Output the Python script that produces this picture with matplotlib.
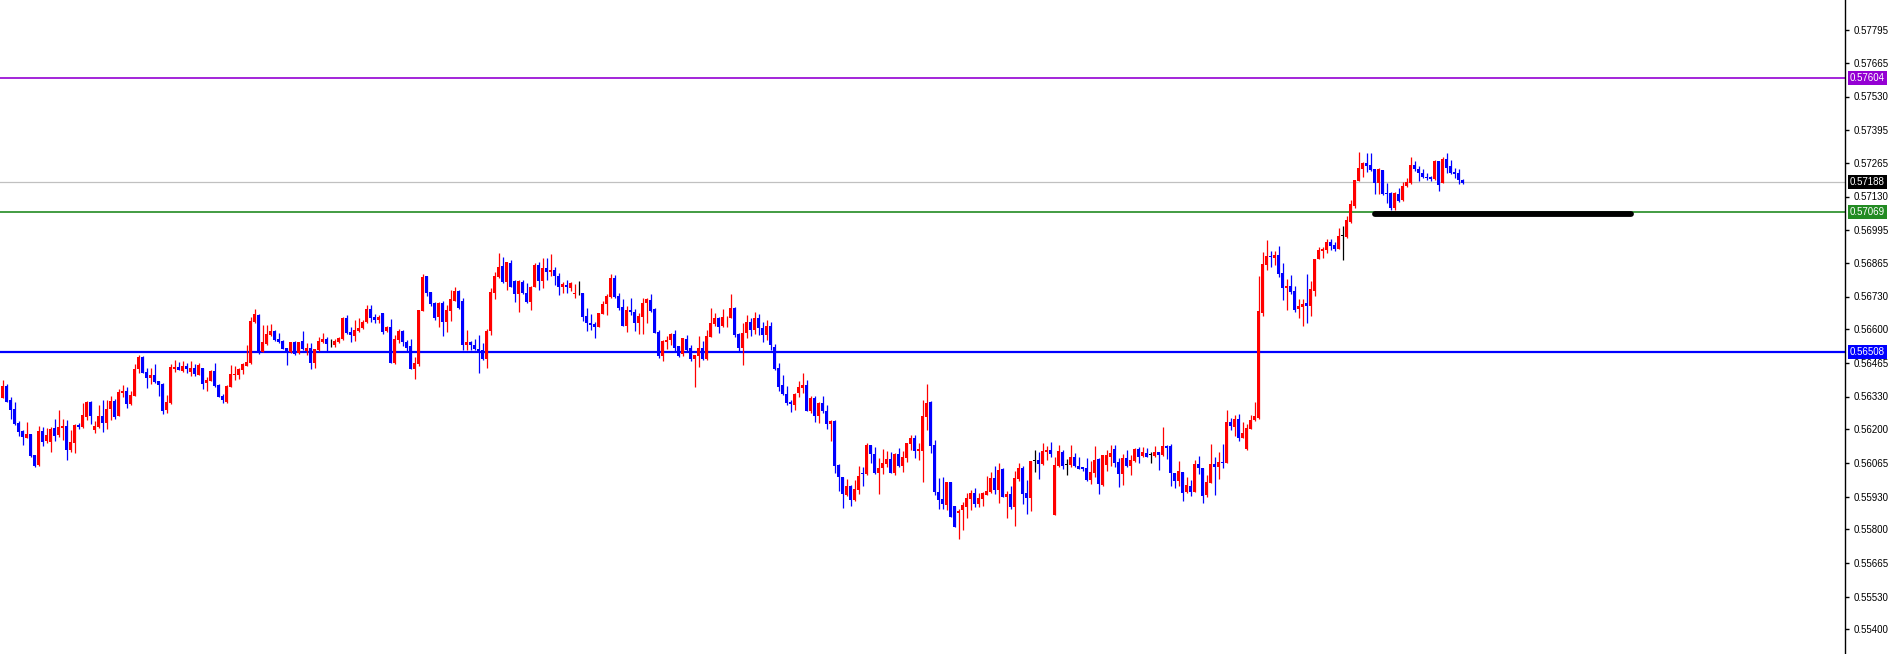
import matplotlib
matplotlib.use("Agg")
import matplotlib.pyplot as plt
import matplotlib.transforms as mtransforms
import numpy as np

plt.rcParams['font.family'] = ['Liberation Sans', 'DejaVu Sans']

# candle prices in points (1 point = 0.00001)
opens = [
    56325, 56372, 56316, 56280, 56223, 56192, 56165, 56180, 56096, 56056,
    56193, 56152, 56149, 56203, 56176, 56205, 56212, 56116, 56145, 56216,
    56208, 56249, 56308, 56196, 56207, 56252, 56223, 56280, 56312, 56252,
    56345, 56353, 56299, 56333, 56439, 56488, 56429, 56405, 56417, 56391,
    56381, 56276, 56303, 56441, 56448, 56433, 56453, 56428, 56444, 56416,
    56443, 56385, 56393, 56432, 56377, 56332, 56309, 56369, 56415, 56416,
    56436, 56452, 56463, 56627, 56656, 56509, 56540, 56576, 56592, 56560,
    56553, 56524, 56509, 56549, 56503, 56553, 56513, 56523, 56463, 56516,
    56547, 56560, 56543, 56536, 56549, 56559, 56644, 56589, 56573, 56592,
    56603, 56627, 56680, 56649, 56636, 56663, 56593, 56607, 56463, 56556,
    56593, 56548, 56532, 56441, 56460, 56673, 56812, 56747, 56703, 56647,
    56705, 56628, 56672, 56713, 56753, 56712, 56537, 56548, 56536, 56520,
    56516, 56480, 56593, 56745, 56809, 56852, 56789, 56865, 56793, 56740,
    56787, 56745, 56708, 56769, 56856, 56793, 56845, 56829, 56836, 56813,
    56769, 56777, 56765, 56741, 56743, 56745, 56652, 56625, 56620, 56609,
    56661, 56699, 56727, 56805, 56733, 56687, 56613, 56676, 56669, 56623,
    56649, 56703, 56716, 56680, 56589, 56492, 56549, 56556, 56580, 56532,
    56499, 56560, 56523, 56480, 56493, 56523, 56480, 56569, 56620, 56645,
    56612, 56647, 56645, 56685, 56580, 56523, 56584, 56628, 56596, 56644,
    56604, 56576, 56612, 56530, 56443, 56376, 56340, 56309, 56296, 56343,
    56365, 56376, 56272, 56323, 56252, 56305, 56272, 56219, 56232, 56056,
    56009, 55936, 55972, 55916, 55956, 56023, 56019, 56135, 56100, 56025,
    56045, 56059, 56079, 56025, 56100, 56052, 56085, 56140, 56163, 56113,
    56113, 56249, 56308, 56136, 55949, 55920, 55896, 55989, 55892, 55865,
    55876, 55889, 55920, 55945, 55900, 55920, 55936, 55949, 56005, 55956,
    56039, 55929, 55940, 55889, 56000, 56043, 55945, 55923, 56073, 56076,
    56060, 56109, 56116, 55856, 56052, 56108, 56056, 56056, 56089, 56052,
    56049, 56045, 55996, 56025, 56079, 55976, 56056, 56089, 56120, 56067,
    56020, 56083, 56052, 56072, 56120, 56092, 56103, 56096, 56092, 56107,
    56096, 56132, 56132, 56025, 55993, 56028, 55949, 55972, 55949, 56060,
    56045, 55936, 55985, 56060, 56049, 56069, 56065, 56229, 56209, 56240,
    56165, 56120, 56200, 56236, 56243, 56665, 56856, 56893, 56885, 56896,
    56823, 56765, 56772, 56752, 56679, 56689, 56703, 56693, 56753, 56880,
    56913, 56916, 56947, 56935, 56921, 56972, 56969, 57029, 57093, 57193,
    57241, 57265, 57256, 57240, 57183, 57236, 57145, 57145, 57083, 57140,
    57116, 57173, 57183, 57256, 57239, 57225, 57209, 57209, 57199, 57273,
    57185, 57280, 57252, 57229, 57225, 57196]

highs = [
    56396, 56380, 56328, 56308, 56233, 56196, 56228, 56180, 56096, 56212,
    56207, 56203, 56207, 56239, 56276, 56240, 56236, 56196, 56220, 56223,
    56305, 56312, 56313, 56233, 56296, 56316, 56316, 56332, 56319, 56359,
    56376, 56367, 56352, 56460, 56496, 56492, 56443, 56443, 56460, 56393,
    56385, 56336, 56459, 56476, 56467, 56473, 56463, 56472, 56460, 56465,
    56443, 56407, 56436, 56465, 56380, 56340, 56376, 56456, 56452, 56443,
    56463, 56536, 56649, 56680, 56659, 56616, 56617, 56619, 56595, 56583,
    56556, 56524, 56549, 56552, 56549, 56592, 56545, 56543, 56520, 56569,
    56585, 56569, 56560, 56560, 56569, 56647, 56656, 56607, 56636, 56643,
    56636, 56696, 56696, 56660, 56656, 56665, 56612, 56639, 56576, 56599,
    56596, 56556, 56559, 56489, 56676, 56819, 56812, 56749, 56709, 56709,
    56712, 56696, 56756, 56769, 56756, 56723, 56596, 56553, 56559, 56576,
    56543, 56599, 56763, 56829, 56903, 56889, 56869, 56876, 56796, 56796,
    56796, 56783, 56772, 56863, 56869, 56883, 56883, 56900, 56847, 56823,
    56789, 56796, 56789, 56780, 56792, 56745, 56683, 56660, 56627, 56665,
    56712, 56739, 56820, 56815, 56745, 56720, 56692, 56723, 56680, 56663,
    56723, 56723, 56740, 56683, 56596, 56556, 56572, 56583, 56596, 56532,
    56563, 56576, 56536, 56496, 56572, 56552, 56596, 56683, 56663, 56649,
    56679, 56652, 56740, 56689, 56583, 56623, 56656, 56644, 56668, 56660,
    56628, 56636, 56628, 56540, 56463, 56416, 56372, 56316, 56345, 56392,
    56423, 56396, 56333, 56333, 56309, 56332, 56296, 56236, 56236, 56060,
    56009, 55999, 55976, 55996, 56052, 56047, 56143, 56136, 56127, 56083,
    56120, 56113, 56109, 56105, 56123, 56112, 56145, 56176, 56176, 56143,
    56316, 56380, 56313, 56156, 56003, 56009, 55989, 55989, 55892, 55879,
    55909, 55943, 55956, 55965, 55943, 55949, 56012, 56029, 56052, 56063,
    56043, 55952, 55972, 56033, 56063, 56052, 55996, 56073, 56116, 56109,
    56143, 56132, 56149, 56089, 56136, 56116, 56079, 56136, 56105, 56087,
    56049, 56083, 56072, 56132, 56083, 56096, 56116, 56136, 56136, 56083,
    56099, 56116, 56096, 56123, 56129, 56127, 56123, 56109, 56132, 56107,
    56209, 56136, 56140, 56025, 56073, 56028, 56009, 55996, 56076, 56092,
    56045, 56016, 56140, 56089, 56109, 56140, 56276, 56245, 56256, 56259,
    56229, 56220, 56256, 56309, 56813, 56909, 56956, 56913, 56913, 56932,
    56865, 56799, 56816, 56772, 56720, 56719, 56820, 56793, 56880, 56927,
    56927, 56959, 56959, 56949, 57003, 57012, 57052, 57116, 57196, 57307,
    57269, 57303, 57303, 57240, 57243, 57236, 57183, 57149, 57149, 57165,
    57189, 57203, 57287, 57273, 57253, 57239, 57223, 57212, 57276, 57273,
    57287, 57303, 57276, 57243, 57239, 57199]

lows = [
    56323, 56308, 56240, 56216, 56173, 56136, 56163, 56089, 56048, 56053,
    56133, 56143, 56109, 56152, 56169, 56156, 56076, 56109, 56105, 56199,
    56205, 56236, 56220, 56185, 56203, 56189, 56201, 56236, 56240, 56252,
    56329, 56285, 56296, 56333, 56424, 56423, 56365, 56380, 56383, 56333,
    56260, 56263, 56300, 56429, 56435, 56429, 56425, 56412, 56413, 56415,
    56361, 56353, 56393, 56369, 56327, 56303, 56305, 56367, 56396, 56399,
    56420, 56452, 56460, 56623, 56499, 56507, 56535, 56573, 56552, 56545,
    56519, 56456, 56505, 56497, 56500, 56516, 56496, 56441, 56444, 56513,
    56543, 56509, 56527, 56527, 56545, 56556, 56579, 56549, 56552, 56589,
    56599, 56624, 56628, 56623, 56623, 56579, 56589, 56463, 56460, 56545,
    56532, 56513, 56439, 56399, 56452, 56671, 56732, 56693, 56636, 56609,
    56573, 56589, 56633, 56711, 56680, 56516, 56516, 56516, 56516, 56423,
    56476, 56445, 56576, 56719, 56803, 56785, 56756, 56767, 56709, 56669,
    56740, 56705, 56676, 56767, 56756, 56763, 56796, 56812, 56776, 56736,
    56743, 56745, 56753, 56723, 56736, 56633, 56593, 56596, 56565, 56609,
    56661, 56657, 56723, 56725, 56676, 56612, 56589, 56656, 56593, 56579,
    56579, 56625, 56669, 56583, 56485, 56472, 56520, 56536, 56509, 56489,
    56493, 56512, 56473, 56369, 56449, 56476, 56476, 56567, 56613, 56585,
    56609, 56609, 56643, 56569, 56509, 56456, 56564, 56572, 56580, 56576,
    56548, 56556, 56516, 56436, 56353, 56336, 56296, 56269, 56276, 56327,
    56345, 56272, 56263, 56229, 56223, 56265, 56200, 56153, 56025, 55953,
    55885, 55933, 55893, 55913, 55940, 55972, 56016, 56063, 56020, 55940,
    56020, 56049, 56023, 56016, 56049, 56029, 56069, 56116, 56083, 56076,
    55989, 56196, 56105, 55936, 55880, 55880, 55876, 55847, 55809, 55760,
    55796, 55845, 55876, 55889, 55889, 55893, 55936, 55945, 55939, 55905,
    55927, 55845, 55880, 55812, 55993, 55900, 55860, 55872, 56029, 56000,
    56056, 56076, 56089, 55856, 56049, 56039, 56016, 56049, 56049, 56039,
    56033, 55993, 55980, 56009, 55940, 55973, 56033, 56052, 56047, 55967,
    55976, 56047, 56016, 56067, 56065, 56087, 56087, 56063, 56089, 56036,
    56092, 56080, 55972, 55965, 55973, 55913, 55945, 55933, 55949, 56020,
    55903, 55927, 55983, 55936, 56000, 56045, 56065, 56196, 56173, 56153,
    56163, 56116, 56199, 56233, 56239, 56652, 56836, 56849, 56856, 56807,
    56716, 56676, 56739, 56669, 56645, 56613, 56625, 56652, 56733, 56880,
    56883, 56905, 56916, 56912, 56920, 56876, 56963, 57025, 57083, 57193,
    57207, 57229, 57232, 57140, 57140, 57136, 57105, 57076, 57076, 57107,
    57112, 57169, 57180, 57232, 57193, 57205, 57196, 57193, 57196, 57153,
    57183, 57223, 57220, 57203, 57179, 57180]

closes = [
    56372, 56309, 56276, 56220, 56188, 56169, 56180, 56092, 56052, 56193,
    56149, 56176, 56200, 56173, 56208, 56212, 56116, 56148, 56216, 56208,
    56256, 56308, 56253, 56212, 56252, 56223, 56280, 56312, 56249, 56348,
    56353, 56301, 56337, 56440, 56488, 56424, 56405, 56417, 56387, 56377,
    56273, 56308, 56448, 56448, 56435, 56453, 56440, 56444, 56419, 56455,
    56380, 56396, 56432, 56373, 56329, 56316, 56372, 56420, 56420, 56439,
    56460, 56469, 56632, 56660, 56509, 56547, 56580, 56592, 56556, 56547,
    56521, 56508, 56549, 56500, 56549, 56520, 56525, 56463, 56520, 56552,
    56560, 56539, 56543, 56553, 56565, 56644, 56585, 56576, 56596, 56605,
    56629, 56680, 56645, 56636, 56647, 56589, 56607, 56465, 56560, 56592,
    56549, 56525, 56441, 56463, 56676, 56809, 56743, 56700, 56643, 56705,
    56628, 56676, 56720, 56753, 56683, 56537, 56548, 56537, 56520, 56505,
    56480, 56593, 56749, 56812, 56847, 56789, 56867, 56769, 56740, 56793,
    56743, 56708, 56767, 56856, 56793, 56845, 56829, 56836, 56812, 56769,
    56780, 56767, 56783, 56745, 56743, 56649, 56623, 56616, 56609, 56663,
    56700, 56733, 56805, 56729, 56683, 56613, 56676, 56668, 56625, 56652,
    56705, 56719, 56672, 56585, 56493, 56552, 56556, 56580, 56525, 56493,
    56563, 56516, 56480, 56496, 56523, 56480, 56572, 56623, 56643, 56609,
    56647, 56649, 56683, 56576, 56523, 56583, 56628, 56596, 56644, 56604,
    56576, 56612, 56536, 56440, 56369, 56339, 56305, 56299, 56340, 56369,
    56376, 56273, 56323, 56253, 56305, 56273, 56219, 56232, 56053, 56009,
    55939, 55972, 55916, 55959, 56012, 56020, 56136, 56099, 56023, 56045,
    56063, 56080, 56025, 56100, 56052, 56089, 56143, 56165, 56113, 56119,
    56252, 56305, 56133, 55949, 55916, 55900, 55987, 55847, 55809, 55872,
    55896, 55923, 55943, 55900, 55923, 55943, 55952, 56003, 55956, 56036,
    55929, 55940, 55887, 56003, 56043, 55940, 55923, 56072, 56073, 56060,
    56112, 56116, 56100, 56056, 56112, 56052, 56056, 56089, 56052, 56040,
    56039, 55996, 56029, 56076, 55980, 56096, 56096, 56105, 56065, 56019,
    56083, 56052, 56076, 56120, 56089, 56109, 56089, 56096, 56107, 56096,
    56132, 56125, 56023, 55993, 56032, 55945, 55976, 55949, 56060, 56045,
    55933, 55989, 56060, 56049, 56069, 56065, 56229, 56212, 56240, 56165,
    56185, 56203, 56236, 56252, 56672, 56860, 56892, 56887, 56896, 56820,
    56765, 56772, 56749, 56676, 56692, 56700, 56693, 56760, 56880, 56916,
    56921, 56947, 56932, 56921, 56972, 56972, 57036, 57100, 57196, 57244,
    57265, 57253, 57236, 57183, 57240, 57140, 57140, 57083, 57145, 57113,
    57173, 57189, 57256, 57240, 57223, 57209, 57203, 57199, 57273, 57176,
    57280, 57245, 57225, 57220, 57196, 57185]

# horizontal levels drawn on the chart: (price, line colour, label box colour, width)
levels = [
    (0.57604, '#9400d3', '#9400d3', 1.2),
    (0.57069, '#228b22', '#228b22', 1.2),
    (0.56508, '#0000ff', '#0000ff', 1.6),
]
bid_price = 0.57188
support_price = 0.5706
support_from, support_to = 343, 407

tick_values = [0.57795, 0.57665, 0.57530, 0.57395, 0.57265, 0.57130, 0.56995,
               0.56865, 0.56730, 0.56600, 0.56465, 0.56330, 0.56200, 0.56065,
               0.55930, 0.55800, 0.55665, 0.55530, 0.55400]

o = np.array(opens) / 1e5
h = np.array(highs) / 1e5
l = np.array(lows) / 1e5
c = np.array(closes) / 1e5
x = np.arange(len(o))

colors = np.where(c > o, '#ff0000', np.where(c < o, '#0000ff', '#000000'))

fig = plt.figure(figsize=(18.92, 6.54), dpi=100)
ax = fig.add_axes([0, 0, 1845 / 1892, 1])

ax.vlines(x, l, h, colors=colors, lw=0.9, zorder=3)
body_bottom = np.minimum(o, c)
body_height = np.maximum(np.abs(c - o), 0.00003)
ax.bar(x, body_height, bottom=body_bottom, width=0.75, color=colors,
       linewidth=0, zorder=3)

for price, lc, bc, lw in levels:
    ax.axhline(price, color=lc, lw=lw, zorder=2)
ax.axhline(bid_price, color='#c0c0c0', lw=0.9, zorder=1)

ax.plot([support_from, support_to], [support_price, support_price],
        color='black', lw=4.2, solid_capstyle='round', zorder=4)

ax.set_xlim(-0.625, 460.6)
ax.set_ylim(0.55300, 0.57916)

ax.yaxis.tick_right()
ax.set_yticks(tick_values)
ax.set_yticklabels(['%.5f' % v for v in tick_values])
ax.tick_params(axis='y', direction='out', length=3, width=1, pad=3,
               labelsize=7, colors='black')
ax.set_xticks([])
for side in ['top', 'left', 'bottom']:
    ax.spines[side].set_visible(False)
ax.spines['right'].set_color('black')
ax.spines['right'].set_linewidth(1)

trans = mtransforms.blended_transform_factory(ax.transAxes, ax.transData)
boxes = [(p, bc) for p, lc, bc, lw in levels] + [(bid_price, '#000000')]
for price, bc in boxes:
    ax.text(1.0 + 5 / 1845, price, '%.5f' % price, transform=trans,
            fontsize=7, color='white', ha='left', va='center', zorder=10,
            bbox=dict(boxstyle='square,pad=0.18', fc=bc, ec='none'))

fig.savefig('out.png', dpi=100, facecolor='white')
